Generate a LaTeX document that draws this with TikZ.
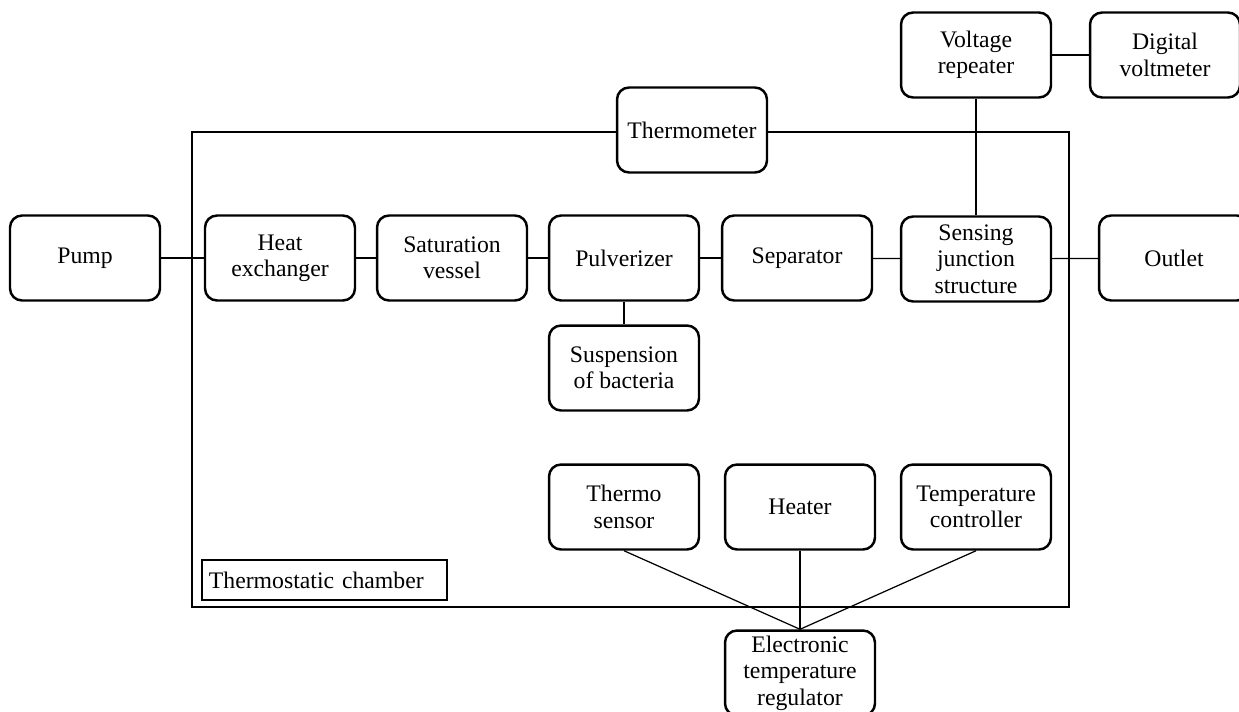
\documentclass[tikz,border=0pt]{standalone}
\usepackage{fontspec}
\setmainfont{Liberation Serif}
\usetikzlibrary{positioning}

\tikzset{
  blk/.style={draw,fill=white,line width=1.4pt,rounded corners=0.24cm,
    minimum width=3cm,minimum height=1.7cm,align=center,inner sep=1pt,
    font=\fontsize{13.5}{15}\selectfont},
  tag/.style={draw,fill=white,line width=1.1pt,text width=4.62cm,align=left,
    minimum height=0.8cm,inner xsep=0.14cm,inner ysep=0pt,
    font=\fontsize{13.5}{15}\selectfont},
  wire/.style={line width=0.7pt}
}

\begin{document}
\begin{tikzpicture}[x=0.02cm,y=-0.02cm]
	\useasboundingbox (0,0) rectangle (1239,711);

	% thermostatic chamber
	\draw[line width=1.3pt] (192,132) rectangle (1069,607);
	\node[tag,anchor=north west] (chlabel) at (201,559) {Thermostatic chamber};

	% main line
	\node[blk] (pump) at (85,258) {Pump};
	\node[blk] (heatex) at (280,258) {Heat\\exchanger};
	\node[blk] (satves) at (452,258) {Saturation\\vessel};
	\node[blk] (pulv) at (624,258) {Pulverizer};
	\node[blk] (separ) at (797,258) {Separator};
	\node[blk] (sensj) at (976,259) {Sensing\\junction\\structure};
	\node[blk] (outlet) at (1174,258) {Outlet};
	\node[blk] (susp) at (624,368) {Suspension\\of bacteria};

	% measurement
	\node[blk] (thermom) at (692,130) {Thermometer};
	\node[blk] (vrep) at (976,55) {Voltage\\repeater};
	\node[blk] (dvm) at (1165,55) {Digital\\voltmeter};

	% temperature control
	\node[blk] (tsens) at (624,507) {Thermo\\sensor};
	\node[blk] (heater) at (800,507) {Heater};
	\node[blk] (tctrl) at (976,507) {Temperature\\controller};
	\node[blk] (regul) at (800,673) {Electronic\\temperature\\regulator};

	\draw[wire] (pump) to (heatex);
	\draw[wire] (heatex) to (satves);
	\draw[wire] (satves) to (pulv);
	\draw[wire] (pulv) to (separ);
	\draw[wire] (separ) to (sensj);
	\draw[wire] (sensj) to (outlet);
	\draw[wire] (pulv) to (susp);
	\draw[wire] (vrep) to (sensj);
	\draw[wire] (vrep) to (dvm);
	\draw[wire] (tsens.south) to (regul.north);
	\draw[wire] (heater.south) to (regul.north);
	\draw[wire] (tctrl.south) to (regul.north);
\end{tikzpicture}
\end{document}
